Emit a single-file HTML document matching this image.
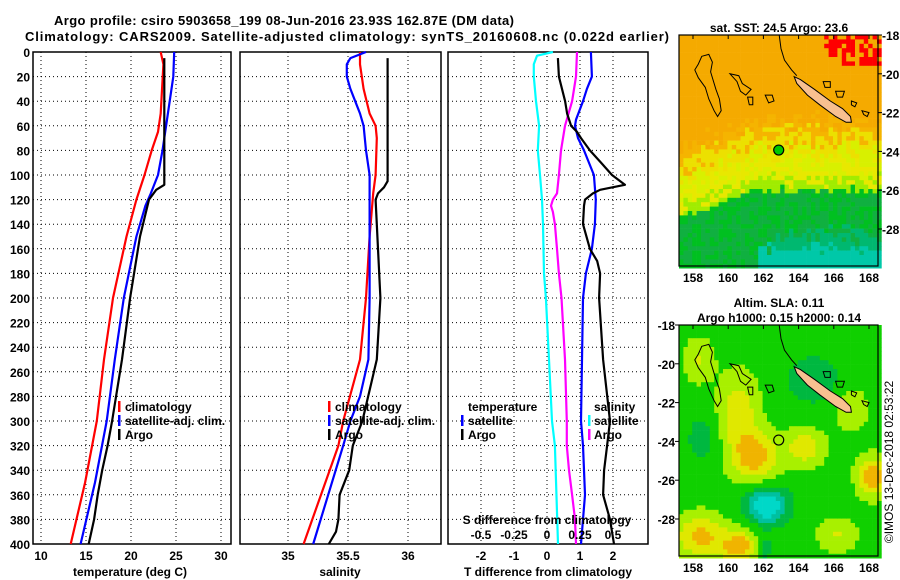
<!DOCTYPE html>
<html><head><meta charset="utf-8"><style>
html,body{margin:0;padding:0;background:#fff;}
svg{display:block;font-family:"Liberation Sans",sans-serif;font-weight:bold;}
</style></head><body>
<svg id="fig" width="900" height="580" viewBox="0 0 900 580" xmlns="http://www.w3.org/2000/svg">
<text x="284" y="25" font-size="13" text-anchor="middle" textLength="460">Argo profile: csiro 5903658_199 08-Jun-2016 23.93S 162.87E (DM data)</text>
<text x="347" y="41" font-size="13" text-anchor="middle" textLength="644">Climatology: CARS2009. Satellite-adjusted climatology: synTS_20160608.nc (0.022d earlier)</text>
<g id="layer"></g>
</svg>
<script>
// ---------- data ----------
const depthTicks=[0,20,40,60,80,100,120,140,160,180,200,220,240,260,280,300,320,340,360,380,400];
const tempTicks=[10,15,20,25,30];
const salTicks=[35,35.5,36];
const tdiffTicks=[-2,-1,0,1,2];
const sdiffTicks=[-0.5,-0.25,0,0.25,0.5];
const sdiffTickLabels=["-0.5","-0.25","0","0.25","0.5"];

const climTdepth=[0,10,50,65,80,100,120,150,200,250,300,350,400];
const climT=[23.3,23.6,23.3,23.0,22.3,21.5,20.6,19.5,18.0,17.0,16.2,14.9,13.3];
const satTdepth=[0,20,40,60,80,100,115,125,150,200,250,300,350,400];
const satT=[24.8,24.7,24.3,23.9,23.5,23.0,22.2,21.6,20.6,19.2,18.2,17.3,16.0,14.4];
const argoTdepth=[5,108,112,120,150,200,250,300,320,340,360,380,400];
const argoT=[23.7,23.7,22.8,22.0,21.0,19.9,19.0,17.9,17.4,16.8,16.3,15.9,15.3];

const climSdepth=[0,10,30,50,60,70,100,115,150,200,250,300,320,400];
const climS=[35.6,35.6,35.63,35.68,35.73,35.74,35.73,35.71,35.68,35.65,35.6,35.46,35.42,35.13];
const satSdepth=[0,5,10,20,30,40,50,60,80,100,120,200,250,280,300,320,400];
const satS=[35.65,35.52,35.49,35.49,35.52,35.56,35.6,35.63,35.65,35.68,35.68,35.68,35.67,35.6,35.52,35.46,35.21];
const argoSdepth=[5,105,110,115,120,200,250,300,320,340,360,380,390,400];
const argoS=[35.83,35.83,35.8,35.75,35.73,35.77,35.74,35.62,35.54,35.51,35.43,35.42,35.4,35.34];

const diffDepth=[0,3,10,20,40,60,80,100,120,140,180,200,250,300,320,400];
const satSdiff=[0.045,-0.076,-0.1,-0.1,-0.083,-0.06,-0.07,-0.053,-0.038,-0.03,-0.023,-0.008,0.015,0.038,0.06,0.083];
const argoSdiffDepth=[0,20,40,60,80,100,115,120,125,130,140,160,180,200,250,300,320,340,360,380,400];
const argoSdiff=[0.227,0.22,0.19,0.136,0.106,0.09,0.076,0.045,0.03,0.045,0.06,0.076,0.09,0.11,0.136,0.15,0.15,0.167,0.19,0.212,0.22];
const satTdiffDepth=[0,20,30,40,55,60,70,80,100,120,140,160,180,200,250,300,320,340,360,400];
const satTdiff=[1.33,1.36,1.21,1.09,0.88,0.85,0.94,1.12,1.42,1.48,1.45,1.36,1.18,1.09,1.06,1.03,1.09,1.12,1.15,1.03];
const argoTdiffDepth=[5,20,40,50,60,65,70,80,90,100,108,112,115,120,125,140,160,170,180,200,250,300,320,340,360,380,400];
const argoTdiff=[0.33,0.36,0.55,0.61,0.73,0.91,1.03,1.3,1.64,1.97,2.36,1.61,1.39,1.15,1.12,1.09,1.3,1.52,1.61,1.58,1.7,1.91,1.82,1.73,1.7,1.91,2.03];

const mapLonTicks=[158,160,162,164,166,168];
const mapLatTicks=[-18,-20,-22,-24,-26,-28];
const argoLon=162.87, argoLat=-23.93;

// ---------- helpers ----------
const NS="http://www.w3.org/2000/svg";
const layer=document.getElementById('layer');
function mk(tag,attrs,parent){const e=document.createElementNS(NS,tag);for(const k in attrs)e.setAttribute(k,attrs[k]);(parent||layer).appendChild(e);return e;}
const top0=52, bot0=544;
function yD(d){return top0+d*(bot0-top0)/400;}
function xT(t){return 41+(t-10)*9;}
function xS(s){return 288+(s-35)*120;}
function xTd(t){return 547+t*33;}
function xSd(s){return 547+s*132;}

function panel(name,x0,x1,xs,xfun){
  const g=mk('g',{});
  
  
  for(const d of depthTicks){if(d===0||d===400)continue;
    const l=mk('line',{x1:x0,x2:x1,y1:yD(d),y2:yD(d),stroke:'#000','stroke-width':1,'stroke-dasharray':'1,3'},g);
    
    }
  for(const v of xs){const x=xfun(v);
    const l=mk('line',{x1:x,x2:x,y1:top0,y2:bot0,stroke:'#000','stroke-width':1,'stroke-dasharray':'1,3'},g);
    
    }
  const r=mk('rect',{x:x0,y:top0,width:x1-x0,height:bot0-top0,fill:'none',stroke:'#000','stroke-width':1.5},g);
  
  
  return g;
}
function line(g,name,depths,vals,xfun,color){
  const pts=depths.map((d,i)=>xfun(vals[i]).toFixed(1)+','+yD(d).toFixed(1)).join(' ');
  const p=mk('polyline',{points:pts,fill:'none',stroke:color,'stroke-width':2.2,'stroke-linejoin':'round'},g);
  
  
}
function txt(g,name,x,y,s,size,anchor,color){
  const t=mk('text',{x:x,y:y,'font-size':size||12,'text-anchor':anchor||'start',fill:color||'#000'},g);
  t.textContent=s;
  
  
  return t;
}
function legBar(g,x,y,color){
  const r=mk('rect',{x:x,y:y-10,width:2.5,height:11,fill:color},g);
  
  
}

// ---------- panel 1 temperature ----------
const p1=panel('temperature-panel',33,231,tempTicks,xT);
for(const d of depthTicks){txt(p1,'depth-tick-label',30,yD(d)+5,String(d),12,'end');}
for(const v of tempTicks){txt(p1,'temperature-tick-label',xT(v),560,String(v),12,'middle');}
txt(p1,'x-axis-title',130,576,'temperature (deg C)',12,'middle');
line(p1,'climatology-temperature-line',climTdepth,climT,xT,'#f00');
line(p1,'satellite-temperature-line',satTdepth,satT,xT,'#00f');
line(p1,'argo-temperature-line',argoTdepth,argoT,xT,'#000');
legBar(p1,118,411,'#f00');txt(p1,'legend-entry',125,411,'climatology');
legBar(p1,118,425,'#00f');txt(p1,'legend-entry',125,425,'satellite-adj. clim.');
legBar(p1,118,439,'#000');txt(p1,'legend-entry',125,439,'Argo');

// ---------- panel 2 salinity ----------
const p2=panel('salinity-panel',240,441,salTicks,xS);
for(const v of salTicks){txt(p2,'salinity-tick-label',xS(v),560,String(v),12,'middle');}
txt(p2,'x-axis-title',340,576,'salinity',12,'middle');
line(p2,'climatology-salinity-line',climSdepth,climS,xS,'#f00');
line(p2,'satellite-salinity-line',satSdepth,satS,xS,'#00f');
line(p2,'argo-salinity-line',argoSdepth,argoS,xS,'#000');
legBar(p2,328,411,'#f00');txt(p2,'legend-entry',335,411,'climatology');
legBar(p2,328,425,'#00f');txt(p2,'legend-entry',335,425,'satellite-adj. clim.');
legBar(p2,328,439,'#000');txt(p2,'legend-entry',335,439,'Argo');

// ---------- panel 3 differences ----------
const p3=panel('difference-panel',448,648,tdiffTicks,xTd);
for(const v of tdiffTicks){txt(p3,'tdiff-tick-label',xTd(v),560,String(v),12,'middle');}
txt(p3,'x-axis-title',548,576,'T difference from climatology',12,'middle');
line(p3,'satellite-salinity-diff-line',diffDepth,satSdiff,xSd,'#0ff');
line(p3,'argo-salinity-diff-line',argoSdiffDepth,argoSdiff,xSd,'#f0f');
line(p3,'satellite-temperature-diff-line',satTdiffDepth,satTdiff,xTd,'#00f');
line(p3,'argo-temperature-diff-line',argoTdiffDepth,argoTdiff,xTd,'#000');
txt(p3,'legend-title',468,411,'temperature');
legBar(p3,461,425,'#00f');txt(p3,'legend-entry',468,425,'satellite');
legBar(p3,461,439,'#000');txt(p3,'legend-entry',468,439,'Argo');
txt(p3,'legend-title',594,411,'salinity');
legBar(p3,588,425,'#0ff');txt(p3,'legend-entry',594,425,'satellite');
legBar(p3,588,439,'#f0f');txt(p3,'legend-entry',594,439,'Argo');
txt(p3,'sdiff-axis-title',547,524,'S difference from climatology',12,'middle');
sdiffTicks.forEach((v,i)=>txt(p3,'sdiff-tick-label',xSd(v),539,sdiffTickLabels[i],12,'middle'));

// ---------- maps ----------
function hash(i,j){let h=(i*374761393+j*668265263)>>>0;h=((h^(h>>>13))*1274126177)>>>0;return ((h^(h>>>16))>>>0)/4294967295;}
function gauss(lon,lat,cx,cy,sx,sy,a){return a*Math.exp(-((lon-cx)*(lon-cx))/(2*sx*sx)-((lat-cy)*(lat-cy))/(2*sy*sy));}
function drawMap(name,y0,kind,title,labelsLeft){
  const x0=679,x1=878,y1=y0+231;
  const g=mk('g',{});
  
  
  const lonX=l=>693+(l-158)*17.6;
  const latY=l=>y0+(-18-l)*19.4;
  const cs=4.4;
  for(let i=0;x0+i*cs<x1;i++){for(let j=0;y0+j*cs<y1;j++){
    const lon=158+(x0+i*cs+2-693)/17.6, lat=-18-(y0+j*cs+2-y0)/19.4;
    let c;
    if(kind==='sst'){
      const n=hash(i,j)-0.5;
      const bnd=-26.2-Math.max(0,(161.5-lon))*0.35+n*0.4;
      const d=(lat-bnd);
      if(lon>165.5&&lat>-19.6&&hash(i+7,j+3)>0.35&&(lat-(-19.6))*1.5+(lon-165.5)>1.2)c='#f00';
      else if(d>3.7+n*0.8)c='#f5aa00';
      else if(d>2.2+n*0.8)c= n>0?'#f5b400':'#ece000';
      else if(d>0.7+n*0.5)c= n>0?'#d8f000':'#e8e800';
      else if(d>0.2)c='#a0ec00';
      else if(lat<-29.0+n*0.8&&lon>161.8)c='#00c8a8';
      else if(lat<-28.3+n&&lon>162.5)c='#00b870';
      else c= n>0.1?'#00c020':'#10b040';
    } else {
      let v=0;
      v+=gauss(lon,lat,161.5,-24.8,0.9,0.9,1.0);
      v+=gauss(lon,lat,160.6,-22.5,0.8,1.4,0.7);
      v+=gauss(lon,lat,164.3,-24.3,0.8,0.7,0.7);
      v+=gauss(lon,lat,168.2,-25.8,0.6,0.7,1.1);
      v+=gauss(lon,lat,158.4,-28.9,1.0,0.8,0.9);
      v+=gauss(lon,lat,160.7,-29.4,0.8,0.6,1.0);
      v+=gauss(lon,lat,166.2,-28.8,0.8,0.6,0.5);
      v+=gauss(lon,lat,158.3,-19.8,0.6,0.8,0.5);
      v+=gauss(lon,lat,167.0,-22.3,0.6,0.8,0.5);
      v-=gauss(lon,lat,162.2,-27.3,0.9,0.7,1.2);
      v-=gauss(lon,lat,158.5,-23.8,0.6,0.8,0.5);
      v-=gauss(lon,lat,164.8,-20.8,1.2,1.0,0.5);
      v-=gauss(lon,lat,162.0,-29.5,0.4,0.5,0.6);
      if(v<-0.85)c='#00d8c8';else if(v<-0.55)c='#00c0a0';else if(v<-0.25)c='#00b840';else if(v<0.15)c='#10d000';
      else if(v<0.48)c='#a8f000';else if(v<0.8)c='#e0e800';else c='#f0b400';
    }
    mk('rect',{x:(x0+i*cs).toFixed(1),y:(y0+j*cs).toFixed(1),width:cs+0.3,height:cs+0.3,fill:c},g);
  }}
  // coastlines
  const P=(pts)=>pts.map(p=>lonX(p[0]).toFixed(1)+','+latY(p[1]).toFixed(1)).join(' ');
  function coast(nm,pts,fill){const e=mk('polygon',{points:P(pts),fill:fill||'none',stroke:'#000','stroke-width':1},g);
    
    }
  coast('chesterfield-reef-outline',[[158.5,-19.1],[158.9,-19.0],[159.1,-19.4],[159.0,-19.9],[159.3,-20.8],[159.5,-21.3],[159.6,-21.9],[159.4,-22.2],[159.2,-21.9],[158.9,-21.3],[158.7,-20.7],[158.3,-20.2],[158.1,-19.8],[158.3,-19.5]]);
  coast('bellona-reef-outline',[[160.1,-20.0],[160.6,-20.1],[160.8,-20.5],[161.3,-20.8],[161.0,-21.1],[160.7,-20.9],[160.5,-20.4]]);
  coast('island-outline',[[161.1,-21.2],[161.4,-21.2],[161.4,-21.6],[161.2,-21.6]]);
  coast('island-outline',[[162.1,-21.1],[162.5,-21.1],[162.6,-21.4],[162.3,-21.5]]);
  const ri=mk('polyline',{points:P([[162.9,-18.0],[163.0,-18.7],[163.2,-19.3],[163.6,-19.8],[163.9,-20.1]]),fill:'none',stroke:'#000','stroke-width':1},g);
  
  
  coast('ouvea-outline',[[165.4,-20.4],[165.8,-20.4],[165.8,-20.7],[165.5,-20.7]]);
  coast('lifou-outline',[[166.1,-20.9],[166.6,-20.9],[166.5,-21.2],[166.2,-21.2]]);
  coast('mare-outline',[[167.0,-21.4],[167.3,-21.5],[167.2,-21.7],[167.0,-21.6]]);
  coast('island-outline',[[167.6,-21.9],[168.0,-22.0],[167.9,-22.2],[167.7,-22.1]]);
  coast('new-caledonia',[[163.75,-20.15],[164.1,-20.3],[164.9,-20.8],[165.8,-21.4],[166.5,-21.8],[166.95,-22.2],[167.0,-22.5],[166.7,-22.5],[166.1,-22.2],[165.2,-21.6],[164.5,-21.1],[163.9,-20.5]],'#f8c090');
  // argo location
  const ac=mk('circle',{cx:lonX(argoLon),cy:latY(argoLat),r:5,fill:kind==='sst'?'#00c800':'none',stroke:'#000','stroke-width':1.2},g);
  
  
  const fr=mk('rect',{x:x0,y:y0,width:x1-x0,height:y1-y0,fill:'none',stroke:'#000','stroke-width':1.2},g);
  
  
  for(const l of mapLonTicks){const x=lonX(l);
    mk('line',{x1:x,x2:x,y1:y0,y2:y0+4,stroke:'#000'},g);
    txt(g,'longitude-tick-label',x,y1+16,String(l),12,'middle');}
  for(const l of mapLatTicks){const y=latY(l);
    if(labelsLeft){
      mk('line',{x1:x0-4,x2:x0,y1:y,y2:y,stroke:'#000'},g);
      txt(g,'latitude-tick-label',x0-4,y+5,String(l),12,'end');
    } else {
      mk('line',{x1:x1,x2:x1+4,y1:y,y2:y,stroke:'#000'},g);
      txt(g,'latitude-tick-label',x1+4,y+5,String(l),12,'start');
    }}
  title.forEach((t,k)=>txt(g,'map-title',779,y0-18+k*15-(title.length-1)*15+15,t,12,'middle'));
}
drawMap('sst-map',35,'sst',['sat. SST: 24.5 Argo: 23.6'],false);
drawMap('sla-map',325,'sla',['Altim. SLA: 0.11','Argo h1000: 0.15 h2000: 0.14'],true);
const cp=txt(layer,'copyright-label',0,0,'©IMOS 13-Dec-2018 02:53:22',12,'middle');
cp.setAttribute('font-weight','normal');
cp.setAttribute('transform','translate(893,462) rotate(-90)');
</script>
</body></html>
